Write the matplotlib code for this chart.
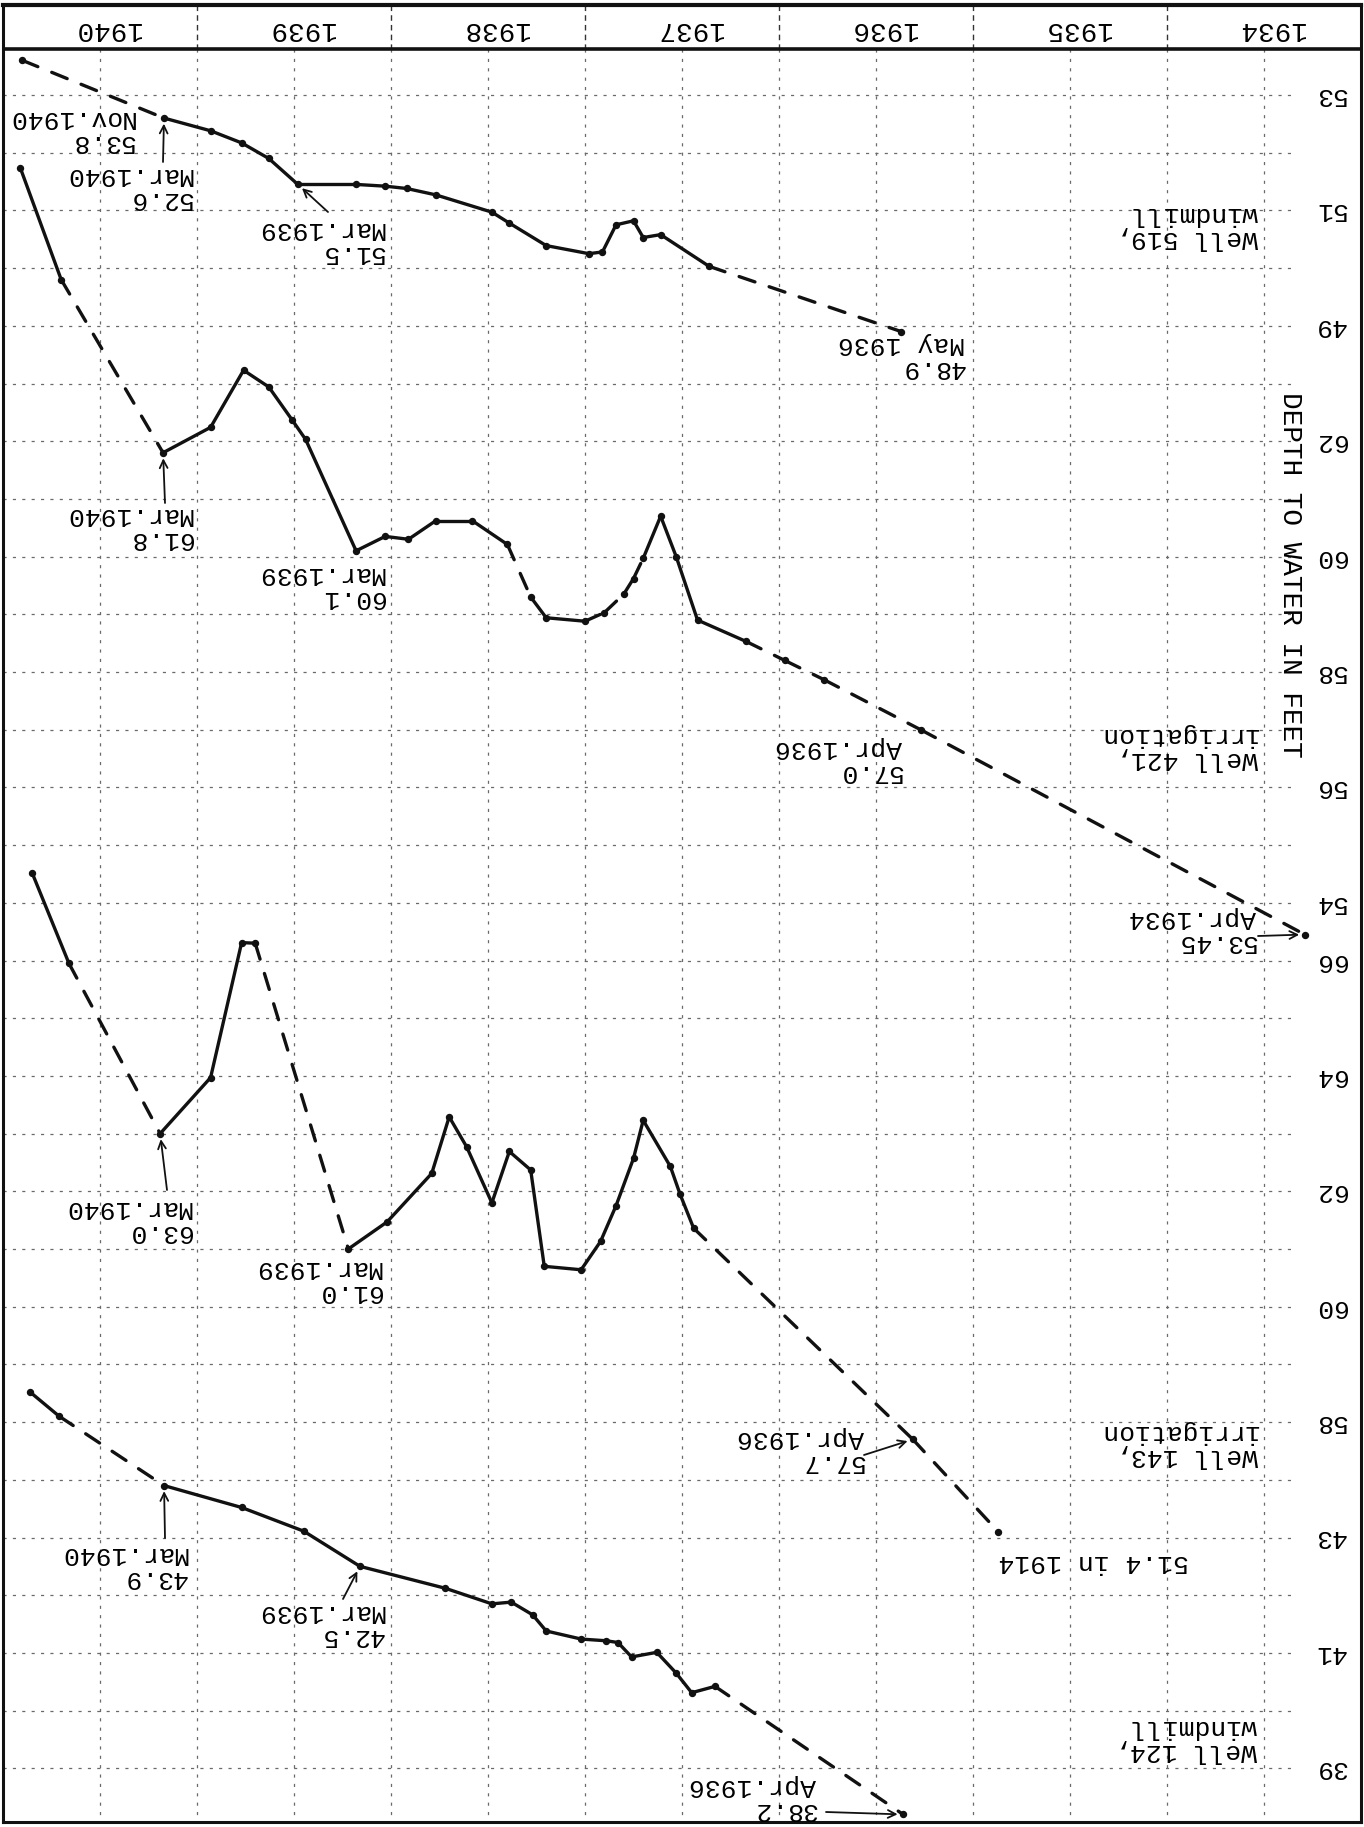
import matplotlib
matplotlib.use('Agg')
import matplotlib.pyplot as plt
import numpy as np

W, H, DPI = 1364, 1827, 100
FONT = ['Liberation Mono', 'DejaVu Sans Mono']
FS = 19

# ---------------- data ----------------
years = [1940, 1939, 1938, 1937, 1936, 1935, 1934]

# Well 519, windmill
w519_t = [1940.90, 1940.17, 1939.93, 1939.77, 1939.63, 1939.48, 1939.18, 1939.03,
          1938.92, 1938.77, 1938.48, 1938.39, 1938.20, 1937.98, 1937.91, 1937.84,
          1937.75, 1937.70, 1937.61, 1937.36, 1936.37]
w519_d = [53.6, 52.6, 52.38, 52.17, 51.9, 51.45, 51.45, 51.42,
          51.38, 51.27, 50.97, 50.78, 50.39, 50.25, 50.28, 50.75,
          50.82, 50.53, 50.58, 50.03, 48.9]
w519_ticks = [53, 51, 49]

# Well 421, irrigation
w421_t = [1940.91, 1940.70, 1940.175, 1939.93, 1939.76, 1939.63, 1939.51, 1939.44,
          1939.18, 1939.03, 1938.91, 1938.77, 1938.58, 1938.40, 1938.28, 1938.20,
          1938.00, 1937.90, 1937.80, 1937.75, 1937.70, 1937.61, 1937.53, 1937.42,
          1937.17, 1936.97, 1936.77, 1936.27, 1934.29]
w421_d = [66.73, 64.8, 61.8, 62.24, 63.23, 62.94, 62.37, 62.03,
          60.1, 60.35, 60.3, 60.62, 60.62, 60.21, 59.3, 58.94,
          58.88, 59.03, 59.35, 59.62, 59.97, 60.7, 60.0, 58.9,
          58.53, 58.2, 57.87, 57.0, 53.45]
w421_ticks = [62, 60, 58, 56, 54]

# Well 143, irrigation
w143_t = [1940.85, 1940.66, 1940.19, 1939.93, 1939.77, 1939.70, 1939.22, 1939.02,
          1938.79, 1938.70, 1938.61, 1938.48, 1938.39, 1938.28, 1938.21, 1938.02,
          1937.92, 1937.84, 1937.75, 1937.70, 1937.56, 1937.51, 1937.44, 1936.31,
          1935.87]
w143_d = [67.52, 65.95, 63.0, 63.97, 66.31, 66.3, 61.0, 61.47,
          62.31, 63.29, 62.77, 61.8, 62.69, 62.37, 60.7, 60.64,
          61.13, 61.75, 62.57, 63.23, 62.43, 61.95, 61.36, 57.7,
          56.1]
w143_ticks = [66, 64, 62, 60, 58]

# Well 124, windmill
w124_t = [1940.86, 1940.71, 1940.17, 1939.77, 1939.45, 1939.16, 1938.72, 1938.48,
          1938.38, 1938.27, 1938.20, 1938.02, 1937.89, 1937.83, 1937.76, 1937.63,
          1937.53, 1937.45, 1937.33, 1936.36]
w124_d = [45.52, 45.1, 43.9, 43.52, 43.11, 42.5, 42.12, 41.85,
          41.88, 41.66, 41.38, 41.24, 41.21, 41.18, 40.93, 41.01,
          40.65, 40.31, 40.42, 38.2]
w124_ticks = [43, 41, 39]

# segment styles (D = dashed, S = solid), one per segment
w519_seg = 'D' + 'S' * 18 + 'D'
w421_seg = 'SD' + 'S' * 11 + 'DSS' + 'DDDD' + 'SSSS' + 'DDDD'
w143_seg = 'SDSSSD' + 'S' * 16 + 'DD'
w124_seg = 'SD' + 'S' * 16 + 'D'

# ---------------- layout ----------------
X0, X1, Y0, Y1 = 3, 1361, 5, 1822
K0_Y, PX_FT = 95.0, 57.7
HEAD_Y = 49
k_top = (Y0 - K0_Y) / PX_FT
k_bot = (Y1 - K0_Y) / PX_FT
k_head = (HEAD_Y - K0_Y) / PX_FT

fig = plt.figure(figsize=(W / DPI, H / DPI), dpi=DPI)
fig.patch.set_facecolor('white')
rect = [X0 / W, 1 - Y1 / H, (X1 - X0) / W, (Y1 - Y0) / H]
base = fig.add_axes(rect, label='base')
base.set_xlim(1941, 1934)
base.set_ylim(k_bot, k_top)
base.set_xticks([])
base.set_yticks([])
for s in base.spines.values():
    s.set_linewidth(2.2)
    s.set_color('#111')
base.spines['top'].set_linewidth(3)

GRID = dict(colors='#6a6a6a', linewidths=0.9, linestyles=(0, (2.5, 5)))
# horizontal grid
x_grid_end = 1941 - (1295 - X0) / 194.0
base.hlines(np.arange(0, 30), 1941, x_grid_end, **GRID)
# vertical grid (half years)
base.vlines(np.arange(1934.5, 1941, 0.5), k_head, k_bot, **GRID)
# header separators
base.vlines(np.arange(1935, 1941, 1.0), k_top, k_head, colors='#333', linewidths=1.0,
            linestyles=(0, (4, 3)))
base.axhline(k_head, color='#111', lw=2.6)
for y in years:
    base.text(y + 0.464, (29 - K0_Y) / PX_FT, str(y), rotation=180, ha='center',
              va='center', fontsize=20, family=FONT)

def well_axes(off, name):
    ax = fig.add_axes(rect, label=name)
    ax.set_xlim(1941, 1934)
    ax.set_ylim(off - k_bot, off - k_top)
    ax.axis('off')
    ax.patch.set_visible(False)
    return ax

def draw(ax, t, d, seg):
    for i in range(len(t) - 1):
        ls = '-' if seg[i] == 'S' else (0, (5, 4.5))
        ax.plot(t[i:i + 2], d[i:i + 2], color='#111', lw=2.4, ls=ls,
                solid_capstyle='round', dash_capstyle='round')
    ax.plot(t, d, 'o', color='#111', ms=4.3, ls='none')

LBL_T = 1941 - (1330 - X0) / 194.0

def ticks(ax, vals):
    for v in vals:
        ax.text(LBL_T, v, str(v), rotation=180, ha='center', va='center',
                fontsize=FS, family=FONT)

def label(text, right_x, cy):
    fig.text(right_x / W, 1 - cy / H, text, rotation=180, ha='right', va='center',
             multialignment='left', fontsize=FS, family=FONT, linespacing=0.95)

def arrow(ax, xy, start):
    ax.annotate('', xy=xy, xycoords='data', xytext=(start[0] / W, 1 - start[1] / H),
                textcoords='figure fraction',
                arrowprops=dict(arrowstyle='->', lw=1.3, color='#111',
                                shrinkA=0, shrinkB=4, mutation_scale=14))

a519 = well_axes(53, 'w519')
a421 = well_axes(68, 'w421')
a143 = well_axes(81, 'w143')
a124 = well_axes(68, 'w124')

draw(a519, w519_t, w519_d, w519_seg)
draw(a421, w421_t, w421_d, w421_seg)
draw(a143, w143_t, w143_d, w143_seg)
draw(a124, w124_t, w124_d, w124_seg)

ticks(a519, w519_ticks)
ticks(a421, w421_ticks)
ticks(a143, w143_ticks)
ticks(a124, w124_ticks)

fig.text(1290 / W, 1 - 575 / H, 'DEPTH TO WATER IN FEET', rotation=270, ha='center',
         va='center', fontsize=20, family=FONT)

# Well 519 annotations
label('53.8\nNov.1940', 134, 130)
label('52.6\nMar.1940', 192, 187)
arrow(a519, (w519_t[1], w519_d[1]), (163, 162))
label('51.5\nMar.1939', 384, 241)
arrow(a519, (w519_t[5], w519_d[5]), (328, 212))
label('48.9\nMay 1936', 965, 356)
label('Well 519,\nwindmill', 1258, 226)

# Well 421 annotations
label('61.8\nMar.1940', 192, 527)
arrow(a421, (w421_t[2], w421_d[2]), (165, 503))
label('60.1\nMar.1939', 384, 586)
label('57.0\nApr.1936', 902, 760)
label('Well 421,\nirrigation', 1258, 747)
label('53.45\nApr.1934', 1256, 930)
arrow(a421, (w421_t[-1], w421_d[-1]), (1258, 936))

# Well 143 annotations
label('63.0\nMar.1940', 191, 1220)
arrow(a143, (w143_t[2], w143_d[2]), (167, 1190))
label('61.0\nMar.1939', 381, 1280)
label('57.7\nApr.1936', 864, 1450)
arrow(a143, (w143_t[-2], w143_d[-2]), (864, 1455))
label('51.4 in 1914', 1189, 1562)
label('Well 143,\nirrigation', 1258, 1444)

# Well 124 annotations
label('43.9\nMar.1940', 187, 1566)
arrow(a124, (w124_t[2], w124_d[2]), (165, 1538))
label('42.5\nMar.1939', 384, 1624)
arrow(a124, (w124_t[5], w124_d[5]), (343, 1599))
label('38.2\nApr.1936', 816, 1798)
arrow(a124, (w124_t[-1], w124_d[-1]), (826, 1812))
label('Well 124,\nwindmill', 1257, 1739)

fig.savefig('out.png', dpi=DPI, facecolor='white')
